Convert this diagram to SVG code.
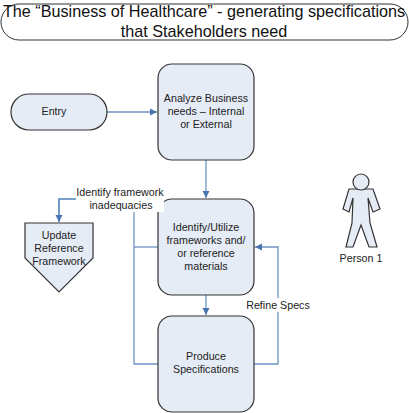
<svg xmlns="http://www.w3.org/2000/svg" width="409" height="413" viewBox="0 0 409 413">
<style>
text{font-family:"Liberation Sans",Arial,sans-serif;fill:#222;text-anchor:middle}
.s{font-size:10.7px}
.t{font-size:16.2px;fill:#111}
.n{fill:#e6ecf6;stroke:#333;stroke-width:1.2}
.c{fill:none;stroke:#6f94c4;stroke-width:1.3}
.d{fill:none;stroke:#4f81bd;stroke-width:1.6}
</style>
<defs>
<marker id="a" markerUnits="userSpaceOnUse" markerWidth="8" markerHeight="8" refX="7" refY="4" orient="auto"><path d="M0 0.5L7 4L0 7.5Z" fill="#4a76b0"/></marker>
</defs>
<rect width="409" height="413" fill="#fff"/>
<g id="connectors">
<path class="c" d="M107 112H157" marker-end="url(#a)"/>
<path class="c" d="M206 160V198" marker-end="url(#a)"/>
<path class="c" d="M206 295V315" marker-end="url(#a)"/>
<path class="c" d="M254 364H278V247H255" marker-end="url(#a)"/>
<path class="c" d="M158 364H134V212"/>
<path class="c" d="M158 247H134"/>
<path class="d" d="M76 199H59V222" marker-end="url(#a)"/>
</g>
<g id="title"><rect x="1" y="4" width="407" height="36" rx="18" fill="#fff" stroke="#333" stroke-width="1"/>
<text class="t" x="204" y="17">The “Business of Healthcare” - generating specifications</text>
<text class="t" x="204" y="37">that Stakeholders need</text></g>
<g id="entry"><rect class="n" x="11" y="94" width="96" height="36" rx="18"/><text class="s" x="54" y="115">Entry</text></g>
<g id="analyze"><rect class="n" x="158" y="64" width="96" height="96" rx="14"/>
<text class="s" x="206" y="102">Analyze Business</text><text class="s" x="206" y="115">needs – Internal</text><text class="s" x="206" y="128">or External</text></g>
<g id="identify"><rect class="n" x="158" y="199" width="96" height="96" rx="14"/>
<text class="s" x="206" y="231">Identify/Utilize</text><text class="s" x="206" y="244">frameworks and/</text><text class="s" x="206" y="257">or reference</text><text class="s" x="206" y="270">materials</text></g>
<g id="produce"><rect class="n" x="158" y="316" width="96" height="96" rx="14"/>
<text class="s" x="206" y="360">Produce</text><text class="s" x="206" y="373">Specifications</text></g>
<g id="update"><path class="n" d="M25 223H93V258L59 292L25 258Z"/>
<text class="s" x="59" y="239">Update</text><text class="s" x="59" y="252">Reference</text><text class="s" x="59" y="265">Framework</text></g>
<g id="label-inadequacies"><rect x="76" y="186" width="88" height="26" fill="#fff"/><text class="s" x="120" y="196">Identify framework</text><text class="s" x="121" y="209">inadequacies</text></g>
<g id="label-refine"><rect x="246" y="298" width="64" height="14" fill="#fff"/><text class="s" x="278" y="309">Refine Specs</text></g>
<g id="person">
<path class="n" d="M349 189H373L380 209L373 212L368 198L370 223L377 247H369L361 225L353 247H346L352 223L353 198L349 212L343 209Z"/>
<circle class="n" cx="361" cy="182" r="8"/>
<text class="s" x="361" y="262">Person 1</text></g>
</svg>
